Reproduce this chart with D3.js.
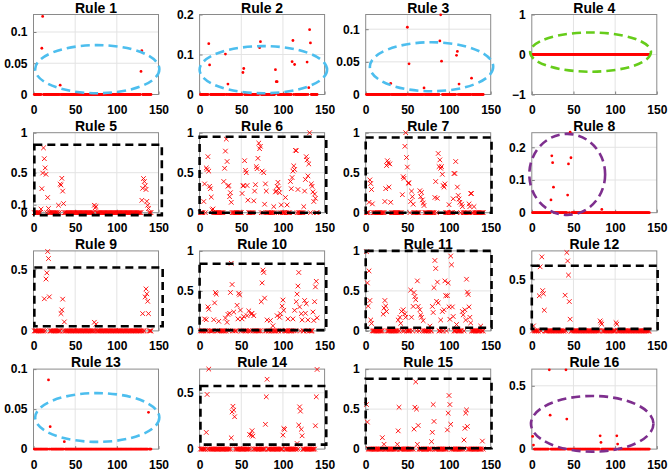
<!DOCTYPE html>
<html>
<head>
<meta charset="utf-8">
<script src="https://cdn.jsdelivr.net/npm/d3@7"></script>
<style>
  body { margin: 0; background: #fff; }
  svg text { font-family: "Liberation Sans", Arial, Helvetica, sans-serif; font-weight: bold; }
</style>
</head>
<body>
<div id="chart"></div>
<script>
// 16 rule panels, sample index on x, rule activation on y

const titles = ["Rule 1", "Rule 2", "Rule 3", "Rule 4", "Rule 5", "Rule 6", "Rule 7", "Rule 8",
  "Rule 9", "Rule 10", "Rule 11", "Rule 12", "Rule 13", "Rule 14", "Rule 15", "Rule 16"];

const sampleIdx = d3.range(1, 142);
const xTicks = [0, 50, 100, 150];

const yMin = [0, 0, 0, -1, 0, 0, 0, 0, 0, 0, 0, 0, 0, 0, 0, 0];
const yMax = [0.128, 0.2, 0.1225, 1, 1, 1, 1, 0.2446, 0.648, 1, 1, 0.774, 0.1, 0.71, 1, 0.632];
const yTicks = [
  [0, 0.05, 0.1], [0, 0.1, 0.2], [0, 0.05, 0.1], [-1, 0, 1],
  [0, 0.1, 0.5, 1], [0, 0.5, 1], [0, 0.5, 1], [0, 0.1, 0.2],
  [0, 0.5], [0, 0.5, 1], [0, 0.5, 1], [0, 0.5],
  [0, 0.05, 0.1], [0, 0.5], [0, 0.5, 1], [0, 0.5]
];

const markerKind = ["dot", "dot", "dot", "dot", "x", "x", "x", "dot",
  "x", "x", "x", "x", "dot", "x", "x", "dot"];

// non-zero samples [index, value]; every other sample is 0
const r1 = [[11, 0.125], [10, 0.074], [32, 0.015], [130, 0.070], [129, 0.037]];
const r2 = [[11, 0.127], [12, 0.074], [31, 0.101], [34, 0.026], [52, 0.055], [53, 0.065],
  [72, 0.117], [73, 0.132], [91, 0.062], [92, 0.032], [93, 0.032], [112, 0.135], [111, 0.082],
  [114, 0.075], [129, 0.081], [132, 0.162], [133, 0.129], [131, 0.017]];
const r3 = [[90, 0.122], [50, 0.103], [89, 0.082], [52, 0.047], [91, 0.051], [110, 0.066],
  [109, 0.060], [30, 0.017], [70, 0.010], [112, 0.016], [127, 0.025]];
const r4 = [];
const r5 = [[12, 0.81], [13, 0.675], [14, 0.56], [11, 0.496], [15, 0.48], [10, 0.30], [17, 0.19],
  [9, 0.045], [18, 0.053], [34, 0.43], [32, 0.358], [33, 0.345], [35, 0.27], [30, 0.093],
  [36, 0.114], [73, 0.093], [75, 0.077], [74, 0.061], [132, 0.427], [133, 0.39], [134, 0.337],
  [131, 0.305], [135, 0.29], [130, 0.155], [136, 0.142], [137, 0.093], [138, 0.053]];
const r6 = [[10, 0.70], [8, 0.56], [9, 0.54], [11, 0.52], [6, 0.36], [12, 0.33], [13, 0.30],
  [14, 0.195], [5, 0.14], [16, 0.047], [15, 0.034], [29, 0.39], [32, 0.92], [31, 0.77],
  [33, 0.64], [30, 0.555], [35, 0.34], [34, 0.33], [37, 0.25], [36, 0.20], [38, 0.13],
  [54, 0.65], [55, 0.53], [56, 0.50], [52, 0.335], [53, 0.34], [57, 0.34], [51, 0.24],
  [58, 0.157], [71, 0.87], [73, 0.83], [72, 0.80], [70, 0.68], [68, 0.576], [69, 0.55],
  [67, 0.35], [66, 0.27], [65, 0.148], [75, 0.52], [77, 0.50], [79, 0.36], [80, 0.27],
  [78, 0.106], [89, 0.076], [92, 0.27], [94, 0.38], [93, 0.33], [95, 0.30], [91, 0.26],
  [96, 0.25], [98, 0.097], [103, 0.19], [105, 0.097], [110, 0.30], [111, 0.44], [112, 0.52],
  [113, 0.585], [114, 0.54], [115, 0.78], [116, 0.775], [109, 0.39], [118, 0.29],
  [128, 0.70], [129, 0.66], [131, 0.61], [130, 0.46], [127, 0.415], [126, 0.27], [134, 0.36],
  [135, 0.33], [136, 0.26], [138, 0.233], [139, 0.18], [137, 0.14], [132, 1.0], [125, 0.076]];
const r7 = [[5, 0.41], [6, 0.365], [7, 0.29], [4, 0.13], [8, 0.11], [24, 0.30], [28, 0.32],
  [26, 0.65], [27, 0.62], [29, 0.61], [25, 0.59], [23, 0.14], [30, 0.13], [48, 1.0],
  [47, 0.83], [49, 0.69], [50, 0.57], [45, 0.45], [46, 0.43], [51, 0.37], [52, 0.37],
  [44, 0.225], [55, 0.27], [56, 0.2], [54, 0.14], [57, 0.106], [65, 0.275], [67, 0.254],
  [66, 0.2], [68, 0.16], [69, 0.12], [70, 0.09], [83, 0.19], [84, 0.39], [87, 0.74],
  [89, 0.66], [88, 0.576], [90, 0.555], [91, 0.576], [92, 0.48], [93, 0.34], [95, 0.36],
  [94, 0.32], [86, 0.18], [105, 0.174], [106, 0.49], [107, 0.49], [108, 0.64], [110, 0.32],
  [111, 0.216], [112, 0.17], [113, 0.13], [115, 0.106], [116, 0.076], [124, 0.11],
  [126, 0.24], [127, 0.24], [125, 0.076], [130, 0.076], [100, 0.1]];
const r8 = [[46, 0.246], [24, 0.174], [25, 0.153], [47, 0.168], [44, 0.149], [26, 0.078],
  [43, 0.054], [23, 0.039], [84, 0.010]];
const r9 = [[17, 0.643], [18, 0.586], [16, 0.47], [15, 0.42], [13, 0.26], [19, 0.276],
  [35, 0.257], [34, 0.17], [33, 0.14], [37, 0.073], [73, 0.07], [75, 0.054], [135, 0.34],
  [136, 0.30], [134, 0.275], [137, 0.24], [131, 0.14], [138, 0.14]];
const r10 = [[6, 0.15], [8, 0.14], [10, 0.30], [11, 0.27], [19, 0.48], [20, 0.46], [18, 0.35],
  [17, 0.14], [23, 0.12], [34, 0.206], [36, 0.22], [38, 0.845], [39, 0.58], [37, 0.48],
  [33, 0.107], [31, 0.16], [41, 0.236], [46, 0.15], [47, 0.47], [48, 0.45], [45, 0.32],
  [49, 0.26], [51, 0.15], [53, 0.18], [57, 0.19], [59, 0.25], [62, 0.21], [63, 0.22],
  [65, 0.19], [76, 0.76], [77, 0.73], [75, 0.60], [78, 0.41], [74, 0.365], [81, 0.137],
  [85, 0.13], [88, 0.064], [93, 0.19], [96, 0.17], [97, 0.215], [100, 0.386], [99, 0.31],
  [101, 0.257], [106, 0.15], [112, 0.15], [114, 0.257], [116, 0.365], [117, 0.46],
  [119, 0.73], [118, 0.56], [120, 0.30], [122, 0.215], [123, 0.137], [126, 0.38],
  [128, 0.34], [127, 0.22], [130, 0.137], [136, 0.236], [138, 0.365], [139, 0.55],
  [140, 0.62], [137, 0.13], [141, 0.163]];
const r11 = [[1, 0.99], [2, 0.60], [4, 0.75], [5, 0.38], [3, 0.31], [6, 0.136], [7, 0.094],
  [23, 0.38], [24, 0.31], [22, 0.285], [25, 0.243], [21, 0.21], [39, 0.136], [41, 0.17],
  [43, 0.243], [45, 0.264], [47, 0.213], [48, 0.17], [42, 0.094], [55, 0.17], [57, 0.306],
  [54, 0.51], [58, 0.48], [59, 0.43], [60, 0.39], [62, 0.625], [63, 0.306], [65, 0.264],
  [66, 0.2], [67, 0.17], [69, 0.128], [77, 0.06], [80, 0.306], [82, 0.54], [83, 0.88],
  [84, 0.78], [86, 0.61], [85, 0.37], [87, 0.35], [81, 0.23], [90, 0.136], [92, 0.243],
  [94, 0.264], [95, 0.625], [96, 0.44], [98, 0.44], [99, 0.60], [100, 0.30], [101, 0.145],
  [102, 0.936], [103, 0.826], [104, 0.30], [105, 0.18], [109, 0.08], [116, 0.243],
  [117, 0.2], [119, 0.264], [120, 0.136], [121, 0.646], [122, 0.485], [123, 0.455],
  [124, 0.30], [125, 0.17], [126, 0.10], [138, 0.06]];
const r12 = [[2, 0.048], [12, 0.716], [10, 0.62], [13, 0.39], [14, 0.36], [9, 0.34],
  [15, 0.2], [42, 0.758], [43, 0.677], [44, 0.54], [40, 0.345], [45, 0.284], [46, 0.113],
  [82, 0.097], [83, 0.08], [84, 0.065], [101, 0.08], [102, 0.065]];
const r13 = [[18, 0.0865], [20, 0.028], [37, 0.0093], [138, 0.046]];
const r14 = [[11, 0.71], [9, 0.485], [8, 0.148], [40, 0.38], [41, 0.346], [39, 0.33],
  [42, 0.287], [38, 0.1], [60, 0.13], [62, 0.124], [63, 0.163], [64, 0.115], [81, 0.62],
  [80, 0.464], [79, 0.22], [101, 0.183], [102, 0.175], [100, 0.124], [120, 0.375],
  [121, 0.337], [119, 0.213], [122, 0.175], [123, 0.118], [117, 0.05], [141, 0.707],
  [140, 0.464], [139, 0.207]];
const r15 = [[1, 0.557], [2, 0.338], [20, 0.143], [22, 0.06], [39, 0.228], [40, 0.523],
  [38, 0.06], [60, 0.84], [59, 0.523], [61, 0.50], [63, 0.295], [58, 0.25], [62, 0.06],
  [81, 0.557], [82, 0.346], [80, 0.21], [79, 0.093], [100, 0.67], [101, 0.557], [99, 0.45],
  [102, 0.31], [98, 0.24], [121, 0.49], [120, 0.45], [122, 0.283], [119, 0.26],
  [118, 0.114], [140, 0.1]];
const r16 = [[21, 0.626], [41, 0.626], [22, 0.268], [42, 0.237], [1, 0.1], [2, 0.032],
  [82, 0.105], [83, 0.053], [102, 0.105], [103, 0.04]];

const nonZero = [r1, r2, r3, r4, r5, r6, r7, r8, r9, r10, r11, r12, r13, r14, r15, r16];

// highlighted region per panel: [xFrom, xTo, yFrom, yTo]
const regionKind = ["blue", "blue", "blue", "green", "box", "box", "box", "purple",
  "box", "box", "box", "box", "blue", "box", "box", "purple"];
const regionBounds = [
  [2, 151, 0.002, 0.079], [0, 153, 0.003, 0.121], [5, 153, 0.005, 0.080], [-2, 143, -0.43, 0.55],
  [1, 154, -0.03, 0.85], [0, 152, 0, 0.95], [0, 151, 0, 0.94], [-3, 88, -0.007, 0.241],
  [1, 155, 0.038, 0.514], [0, 152, 0.01, 0.84], [0, 151, 0.04, 1.0], [0, 151, 0.02, 0.63],
  [2, 151, 0.009, 0.07], [1, 152, 0.04, 0.56], [0, 151, 0.01, 0.88], [-1, 146, -0.02, 0.42]
];

const regionColor = { blue: "#4DBEEE", green: "#66CC1A", purple: "#7E2F8E", box: "#000000" };

const width = 670, height = 471;
const left0 = 33.5, colStep = 166.1, plotW = 125;
const bottom0 = 94.5, rowStep = 118.2, plotH = 80;

const svg = d3.select("#chart").append("svg")
  .attr("width", width)
  .attr("height", height);

titles.forEach((title, i) => {
  const col = i % 4, row = Math.floor(i / 4);
  const ox = left0 + col * colStep;
  const oy = bottom0 + row * rowStep - plotH;

  const x = d3.scaleLinear().domain([0, 150]).range([0, plotW]);
  const y = d3.scaleLinear().domain([yMin[i], yMax[i]]).range([plotH, 0]);

  const g = svg.append("g").attr("transform", `translate(${ox},${oy})`);

  g.append("rect")
    .attr("width", plotW)
    .attr("height", plotH)
    .attr("fill", "#fff");

  // grid
  g.selectAll(".gx")
    .data(xTicks.slice(1, -1))
    .enter()
    .append("line")
    .attr("x1", (d) => x(d)).attr("x2", (d) => x(d))
    .attr("y1", 0).attr("y2", plotH)
    .attr("stroke", "#e3e3e3").attr("stroke-width", 1);
  g.selectAll(".gy")
    .data(yTicks[i].filter((d) => d > yMin[i] && d < yMax[i]))
    .enter()
    .append("line")
    .attr("x1", 0).attr("x2", plotW)
    .attr("y1", (d) => y(d)).attr("y2", (d) => y(d))
    .attr("stroke", "#e3e3e3").attr("stroke-width", 1);

  const xAxis = g.append("g")
    .attr("transform", `translate(0,${plotH})`)
    .call(d3.axisBottom(x).tickValues(xTicks).tickSize(-3).tickSizeOuter(0).tickPadding(11));
  const yAxis = g.append("g")
    .call(d3.axisLeft(y).tickValues(yTicks[i]).tickSize(-3).tickSizeOuter(0).tickPadding(6)
      .tickFormat(d3.format("")));
  [xAxis, yAxis].forEach((a) => {
    a.select(".domain").remove();
    a.selectAll("line").attr("stroke", "#808080");
    a.selectAll("text")
      .attr("fill", "#000")
      .style("font-size", "12px")
      .style("font-weight", "bold")
      .style("font-family", "'Liberation Sans', Arial, sans-serif");
  });

  g.append("rect")
    .attr("width", plotW)
    .attr("height", plotH)
    .attr("fill", "none")
    .attr("stroke", "#8a8a8a")
    .attr("stroke-width", 1);

  // samples: zeros first, then the active ones
  const pts = nonZero[i];
  const used = new Set(pts.map((p) => p[0]));
  const zeros = sampleIdx.filter((k) => !used.has(k)).map((k) => [k, 0]);
  const all = zeros.concat(pts);

  if (markerKind[i] === "dot") {
    g.selectAll(".pt")
      .data(all)
      .enter()
      .append("circle")
      .attr("cx", (d) => x(d[0]))
      .attr("cy", (d) => y(d[1]))
      .attr("r", 1.4)
      .attr("fill", "#ff0000");
  } else {
    g.selectAll(".pt")
      .data(all)
      .enter()
      .append("path")
      .attr("transform", (d) => `translate(${x(d[0])},${y(d[1])})`)
      .attr("d", "M-2.3,-2.3L2.3,2.3M-2.3,2.3L2.3,-2.3")
      .attr("stroke", "#ff0000")
      .attr("stroke-width", 0.9)
      .attr("fill", "none");
  }

  // highlighted region
  const [bx0, bx1, by0, by1] = regionBounds[i];
  const kind = regionKind[i];
  if (kind === "box") {
    g.append("rect")
      .attr("x", x(bx0))
      .attr("y", y(by1))
      .attr("width", x(bx1) - x(bx0))
      .attr("height", y(by0) - y(by1))
      .attr("fill", "none")
      .attr("stroke", regionColor[kind])
      .attr("stroke-width", 2.6)
      .attr("stroke-dasharray", "8,5");
  } else {
    g.append("ellipse")
      .attr("cx", (x(bx0) + x(bx1)) / 2)
      .attr("cy", (y(by0) + y(by1)) / 2)
      .attr("rx", (x(bx1) - x(bx0)) / 2)
      .attr("ry", (y(by0) - y(by1)) / 2)
      .attr("fill", "none")
      .attr("stroke", regionColor[kind])
      .attr("stroke-width", 2.6)
      .attr("stroke-dasharray", "9,5");
  }

  g.append("text")
    .attr("x", plotW / 2)
    .attr("y", -1.8)
    .attr("text-anchor", "middle")
    .attr("fill", "#000")
    .style("font-size", "14px")
    .text(title);
});
</script>
</body>
</html>
